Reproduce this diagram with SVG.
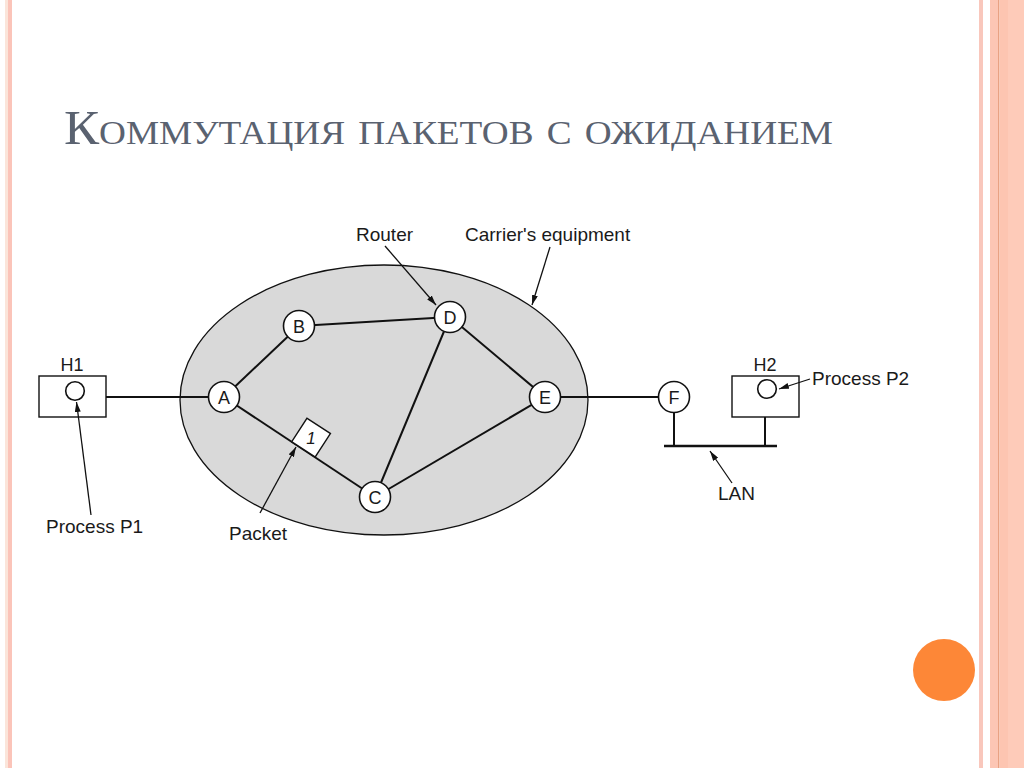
<svg xmlns="http://www.w3.org/2000/svg" width="1024" height="768" viewBox="0 0 1024 768">
  <defs>
    <marker id="arr" viewBox="0 0 10 6" refX="10" refY="3" markerWidth="10" markerHeight="6" markerUnits="userSpaceOnUse" orient="auto">
      <path d="M0,0 L10,3 L0,6 Z" fill="#111"/>
    </marker>
    <style>
      .lbl { font-family: "Liberation Sans", Arial, sans-serif; font-size: 19px; fill: #1a1a1a; }
      .nl { font-family: "Liberation Sans", Arial, sans-serif; font-size: 18px; fill: #1a1a1a; text-anchor: middle; }
      .node { fill: #ffffff; stroke: #111; stroke-width: 1.6; }
      .link { stroke: #111; stroke-width: 2; fill: none; }
      .ptr { stroke: #111; stroke-width: 1.3; fill: none; marker-end: url(#arr); }
      .box { fill: #ffffff; stroke: #111; stroke-width: 1.4; }
    </style>
  </defs>

  <!-- slide background and borders -->
  <rect x="0" y="0" width="1024" height="768" fill="#ffffff"/>
  <g id="borders">
    <rect x="5" y="0" width="3" height="768" fill="#fbe5da"/>
    <rect x="8" y="0" width="4" height="768" fill="#fbc4b9"/>
    <rect x="979" y="0" width="4" height="768" fill="#f9c7bc"/>
    <rect x="990" y="0" width="8" height="768" fill="#fcc6b4"/>
    <rect x="998" y="0" width="1.5" height="768" fill="#e8a283"/>
    <rect x="999.5" y="0" width="8.5" height="768" fill="#fdc5b1"/>
    <rect x="1008" y="0" width="16" height="768" fill="#fecbb9"/>
  </g>
  <circle id="dot" cx="944" cy="670" r="31" fill="#fd8737"/>

  <!-- title -->
  <text id="title" x="64" y="144" font-family="'Liberation Serif', 'Times New Roman', serif" font-size="48" font-variant="small-caps" fill="#5a6270" textLength="769" lengthAdjust="spacingAndGlyphs">Коммутация пакетов с ожиданием</text>

  <!-- carrier's equipment region -->
  <g id="carrier">
    <ellipse cx="384" cy="400" rx="204" ry="135" fill="#d9d9d9" stroke="#111" stroke-width="1.3"/>
  </g>

  <!-- connectors -->
  <g id="connectors">
    <line class="link" x1="106" y1="397" x2="224" y2="397"/>
    <line class="link" x1="224" y1="397" x2="299" y2="326"/>
    <line class="link" x1="299" y1="326" x2="450" y2="317"/>
    <line class="link" x1="224" y1="397" x2="375" y2="497"/>
    <line class="link" x1="450" y1="317" x2="375" y2="497"/>
    <line class="link" x1="450" y1="317" x2="545" y2="397"/>
    <line class="link" x1="545" y1="397" x2="375" y2="497"/>
    <line class="link" x1="545" y1="397" x2="674" y2="397"/>
    <line class="link" x1="674" y1="397" x2="674" y2="446"/>
    <line class="link" x1="765" y1="417" x2="765" y2="446"/>
    <line x1="664" y1="446" x2="777" y2="446" stroke="#111" stroke-width="2.6"/>
  </g>

  <!-- hosts -->
  <g id="H1">
    <rect class="box" x="39" y="376" width="67" height="41"/>
    <circle class="node" cx="75" cy="391" r="9.3" stroke-width="1.3"/>
    <text class="nl" x="72" y="371">H1</text>
  </g>
  <g id="H2">
    <rect class="box" x="732" y="376" width="67" height="41"/>
    <circle class="node" cx="767" cy="389" r="9.3" stroke-width="1.3"/>
    <text class="nl" x="765" y="371">H2</text>
  </g>

  <!-- routers -->
  <g id="A"><circle class="node" cx="224" cy="397" r="15.5"/><text class="nl" x="224" y="403.5">A</text></g>
  <g id="B"><circle class="node" cx="299" cy="326" r="15.5"/><text class="nl" x="299" y="332.5">B</text></g>
  <g id="C"><circle class="node" cx="375" cy="497" r="15.5"/><text class="nl" x="375" y="503.5">C</text></g>
  <g id="D"><circle class="node" cx="450" cy="317" r="15.5"/><text class="nl" x="450" y="323.5">D</text></g>
  <g id="E"><circle class="node" cx="545" cy="397" r="15.5"/><text class="nl" x="545" y="403.5">E</text></g>
  <g id="F"><circle class="node" cx="674" cy="397" r="15.5"/><text class="nl" x="674" y="403.5">F</text></g>

  <!-- packet -->
  <g id="packet" transform="translate(291.7,441.7) rotate(33)">
    <rect x="0" y="-28" width="28" height="28" fill="#ffffff" stroke="#111" stroke-width="1.4"/>
    <text x="14" y="-7.5" font-family="'Liberation Sans', Arial, sans-serif" font-size="17" font-style="italic" text-anchor="middle" fill="#1a1a1a" transform="rotate(-33 14 -14)">1</text>
  </g>

  <!-- label pointers -->
  <g id="pointers">
    <line class="ptr" x1="385" y1="246" x2="436" y2="305"/>
    <line class="ptr" x1="550" y1="247" x2="532" y2="305"/>
    <line class="ptr" x1="91" y1="515" x2="76.5" y2="402"/>
    <line class="ptr" x1="260" y1="513" x2="296" y2="447"/>
    <line class="ptr" x1="810" y1="379" x2="779" y2="389"/>
    <line class="ptr" x1="732" y1="483" x2="710" y2="451"/>
  </g>

  <!-- labels -->
  <g id="labels">
    <text class="lbl" x="356" y="241">Router</text>
    <text class="lbl" x="465" y="241">Carrier's equipment</text>
    <text class="lbl" x="46" y="533">Process P1</text>
    <text class="lbl" x="229" y="540">Packet</text>
    <text class="lbl" x="812" y="385">Process P2</text>
    <text class="lbl" x="718" y="500">LAN</text>
  </g>
</svg>
